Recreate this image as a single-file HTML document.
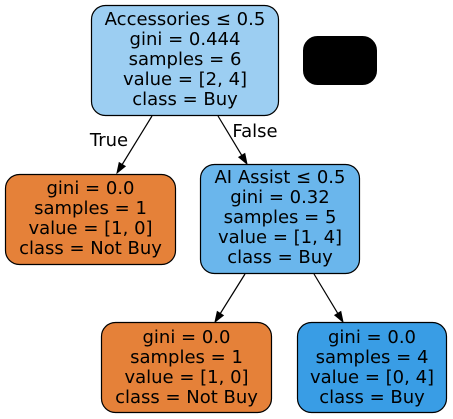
<!DOCTYPE html>
<html><head><meta charset="utf-8"><style>
html,body{margin:0;padding:0;background:#fff;}
svg{display:block;}
text{font-family:"DejaVu Sans","Liberation Sans",sans-serif;font-size:18px;fill:#000;text-anchor:middle;}
</style></head><body>
<svg width="453" height="419" viewBox="0 0 453 419" xmlns="http://www.w3.org/2000/svg">
<rect x="0" y="0" width="453" height="419" fill="#fff"/>
<g stroke="#000" stroke-width="1.2" fill="none">
<line x1="152" y1="116" x2="122.2" y2="164.5"/>
<line x1="218" y1="116" x2="241.8" y2="155.4"/>
<line x1="245" y1="274" x2="220.3" y2="313.5"/>
<line x1="314" y1="274" x2="337.8" y2="313.4"/>
</g>
<g fill="#000" stroke="#000" stroke-width="1">
<polygon points="117,173 125.2,166.3 119.2,162.7"/>
<polygon points="247,164 244.8,153.6 238.8,157.2"/>
<polygon points="215,322 223.3,315.4 217.3,311.6"/>
<polygon points="343,322 340.8,311.6 334.8,315.2"/>
</g>
<text x="109" y="146">True</text>
<text x="255" y="137">False</text>
<rect x="91.5" y="5.5" width="187" height="110" rx="14" fill="#9ccef2" stroke="#000" stroke-width="1.2"/>
<text x="185" y="25">Accessories ≤ 0.5</text>
<text x="185" y="45">gini = 0.444</text>
<text x="185" y="65">samples = 6</text>
<text x="185" y="85">value = [2, 4]</text>
<text x="185" y="105">class = Buy</text>
<rect x="303.5" y="36.5" width="73" height="48" rx="14" fill="#000" stroke="#000"/>
<rect x="5.5" y="174.5" width="170" height="90" rx="14" fill="#e58139" stroke="#000" stroke-width="1.2"/>
<text x="90.5" y="194">gini = 0.0</text>
<text x="90.5" y="214">samples = 1</text>
<text x="90.5" y="234">value = [1, 0]</text>
<text x="90.5" y="254">class = Not Buy</text>
<rect x="200.5" y="164.5" width="159" height="109" rx="14" fill="#6ab6ec" stroke="#000" stroke-width="1.2"/>
<text x="280" y="183">AI Assist ≤ 0.5</text>
<text x="280" y="203">gini = 0.32</text>
<text x="280" y="223">samples = 5</text>
<text x="280" y="243">value = [1, 4]</text>
<text x="280" y="263">class = Buy</text>
<rect x="101.5" y="322.5" width="170" height="90" rx="14" fill="#e58139" stroke="#000" stroke-width="1.2"/>
<text x="186.5" y="343">gini = 0.0</text>
<text x="186.5" y="363">samples = 1</text>
<text x="186.5" y="383">value = [1, 0]</text>
<text x="186.5" y="403">class = Not Buy</text>
<rect x="297.5" y="322.5" width="149" height="90" rx="14" fill="#399de5" stroke="#000" stroke-width="1.2"/>
<text x="372" y="343">gini = 0.0</text>
<text x="372" y="363">samples = 4</text>
<text x="372" y="383">value = [0, 4]</text>
<text x="372" y="403">class = Buy</text>
</svg>
</body></html>
